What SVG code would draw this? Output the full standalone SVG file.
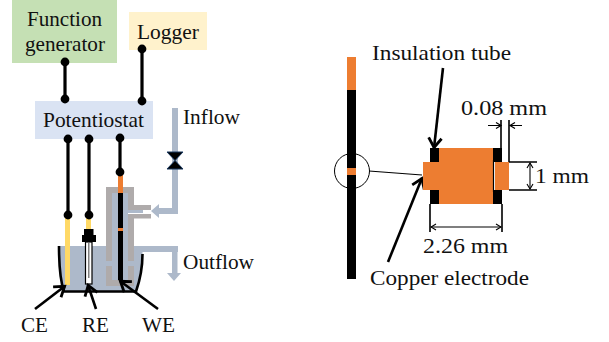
<svg xmlns="http://www.w3.org/2000/svg" width="609" height="342" viewBox="0 0 609 342">
<style>
text{font-family:"Liberation Serif","Times New Roman",serif;font-size:21.5px;fill:#111}
.w{stroke:#000;stroke-width:3.2;fill:none}
.a{stroke:#000;stroke-width:2.6;fill:none;marker-end:url(#ah)}
.t{stroke:#000;stroke-width:1.2;fill:none}
.d{stroke:#000;stroke-width:1.1;fill:none;marker-end:url(#sm);marker-start:url(#sms)}
.b{fill:#adb9ca}.g{fill:#afabab}.o{fill:#ed7d31}.k{fill:#000}
</style>
<defs>
<marker id="ah" markerUnits="userSpaceOnUse" markerWidth="18" markerHeight="18" refX="15" refY="9" orient="auto"><path d="M5 2.500L14.500 9L5 15.500" fill="none" stroke="#000" stroke-width="2.8"/></marker>
<marker id="sm" markerUnits="userSpaceOnUse" markerWidth="8" markerHeight="8" refX="7" refY="4" orient="auto"><path d="M2 1L7 4L2 7" fill="none" stroke="#000" stroke-width="1.1"/></marker>
<marker id="sms" markerUnits="userSpaceOnUse" markerWidth="8" markerHeight="8" refX="1" refY="4" orient="auto"><path d="M6 1L1 4L6 7" fill="none" stroke="#000" stroke-width="1.1"/></marker>
</defs>
<g id="function-generator"><rect x="12" y="0" width="105" height="63" fill="#c5e0b4"/><text x="27" y="26" textLength="75" lengthAdjust="spacingAndGlyphs">Function</text><text x="25" y="51" textLength="80" lengthAdjust="spacingAndGlyphs">generator</text></g>
<g id="logger"><rect x="129" y="12" width="78" height="38" fill="#fff2cc"/><text x="137" y="39" textLength="62" lengthAdjust="spacingAndGlyphs">Logger</text></g>
<g id="potentiostat"><rect x="35" y="101" width="118" height="38" fill="#dae3f3"/><text x="43" y="127" textLength="101" lengthAdjust="spacingAndGlyphs">Potentiostat</text></g>
<g id="cell">
<path class="b" d="M59 246H178V252H142.500C142.500 272 140 285 136 291H63C60.500 280 59 268 59 246Z"/>
<rect class="b" x="172" y="108" width="6" height="106"/>
<rect class="b" x="112" y="193" width="16" height="87"/>
<rect class="b" x="158" y="208" width="20" height="6"/>
<path class="b" d="M151 211L159 204V218Z"/>
<rect class="b" x="128" y="210" width="15" height="3"/>
<rect class="b" x="172" y="250" width="5.500" height="24"/>
<path class="b" d="M167 273H181L174 281Z"/>
<path class="g" d="M106 187H134V205H151V210H128V193H112V261H106ZM128 214H151V218.500H134V261H128ZM106 266H112V280H128V266H134V286H106Z"/>
<path d="M59 246C59 268 60 280 64 291.500H136C140 280 142.500 270 142.500 254" fill="none" stroke="#000" stroke-width="2.6"/>
<rect x="65" y="215" width="5" height="70" fill="#ffd966"/>
<rect x="86" y="215" width="5" height="15" fill="#ffd966"/>
<path class="k" d="M84 229H93.500V235H96V242H82V235H84Z"/>
<rect x="85.500" y="242" width="6.500" height="42" fill="#fff" stroke="#000" stroke-width="1.2"/>
<rect x="88" y="243" width="1.500" height="35" fill="#7f7f7f"/>
<rect class="o" x="118" y="172" width="5" height="21"/>
<rect class="k" x="118" y="193" width="5" height="87"/>
<rect class="o" x="118" y="228" width="5" height="3"/>
</g>
<g id="valve"><path d="M167 152H183L175 160.500ZM167 169H183L175 160.500Z" fill="#000" stroke="#17375e" stroke-width="1"/></g>
<g id="connectors">
<path class="w" d="M65 62V99M142 49V101M68 139V215M89 139V215M120 138V172"/>
<g class="k"><circle cx="65" cy="62" r="4.400"/><circle cx="65" cy="99" r="4.400"/><circle cx="142" cy="49" r="4.400"/><circle cx="142" cy="101" r="4.400"/><circle cx="68" cy="139" r="4.400"/><circle cx="89" cy="139" r="4.400"/><circle cx="120" cy="138" r="4.400"/><circle cx="68" cy="215" r="4.400"/><circle cx="89" cy="215" r="4.400"/><circle cx="120" cy="172" r="4.400"/></g>
<path class="a" d="M35 309L65 286"/><path class="a" d="M96 309L88 285"/><path class="a" d="M158 309L120 281"/>
<path class="a" d="M443 68L434 148"/><path class="a" d="M388 262L422 178"/>
<path class="t" d="M369 171L422 175"/>
</g>
<g id="labels"><text x="21" y="332" textLength="27" lengthAdjust="spacingAndGlyphs">CE</text><text x="82" y="332" textLength="27" lengthAdjust="spacingAndGlyphs">RE</text><text x="142" y="332" textLength="33" lengthAdjust="spacingAndGlyphs">WE</text><text x="183" y="124" textLength="57" lengthAdjust="spacingAndGlyphs">Inflow</text><text x="183" y="269" textLength="71" lengthAdjust="spacingAndGlyphs">Outflow</text></g>
<g id="electrode"><rect class="k" x="347" y="90" width="9" height="189"/><rect class="o" x="347" y="57" width="9" height="33"/><rect class="o" x="347" y="168" width="9" height="7"/><circle cx="352" cy="171" r="17.500" fill="none" stroke="#000" stroke-width="1"/></g>
<g id="detail">
<rect class="k" x="430" y="148" width="9" height="14"/><rect class="k" x="430" y="190" width="9" height="14"/><rect class="k" x="493" y="148" width="9" height="14"/><rect class="k" x="493" y="190" width="9" height="14"/>
<rect class="o" x="439" y="148" width="54" height="56"/><rect class="o" x="423" y="162" width="16" height="28"/><rect class="o" x="495" y="162" width="14" height="28"/>
<path class="t" d="M493.500 160V192"/>
</g>
<g id="dimensions">
<path d="M430 204V232M502 204V232M501 120V148M509 120V162M509 162H537M509 190H537" fill="none" stroke="#000" stroke-width="1.600"/>
<path class="d" d="M431 227H501"/><path class="d" d="M530 163V189"/>
<path class="t" d="M488 125.500H500M522 125.500H510"/>
<path d="M496 122.500L501 125.500L496 128.500M515 122.500L510 125.500L515 128.500" fill="none" stroke="#000" stroke-width="1.200"/>
<text x="461" y="115" textLength="86" lengthAdjust="spacingAndGlyphs">0.08 mm</text><text x="535" y="183" textLength="54" lengthAdjust="spacingAndGlyphs">1 mm</text><text x="423" y="253" textLength="85" lengthAdjust="spacingAndGlyphs">2.26 mm</text>
<text x="372" y="60" textLength="139" lengthAdjust="spacingAndGlyphs">Insulation tube</text><text x="370" y="285" textLength="159" lengthAdjust="spacingAndGlyphs">Copper electrode</text>
</g>
</svg>
